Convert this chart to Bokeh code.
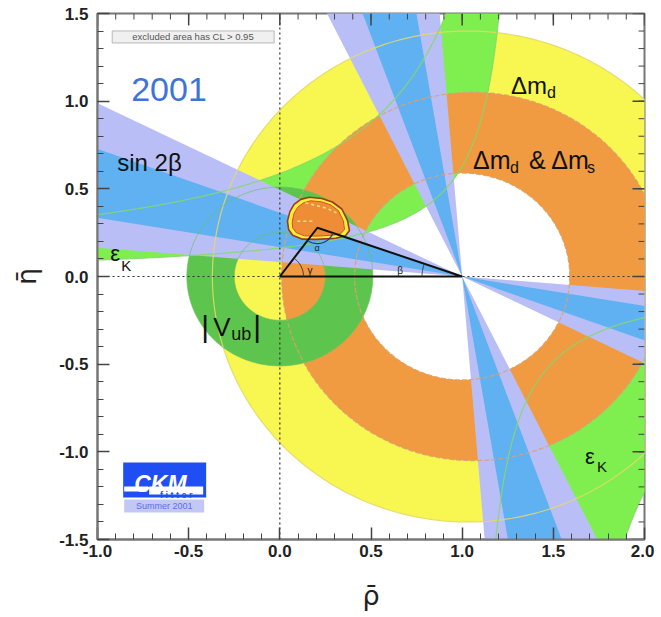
import numpy as np
from bokeh.plotting import figure
from bokeh.models import FixedTicker, NumeralTickFormatter
from bokeh.core.properties import value
from bokeh.embed import file_html
from bokeh.resources import INLINE

# ---------------- values ----------------
x_ticks = [-1.0, -0.5, 0.0, 0.5, 1.0, 1.5, 2.0]
y_ticks = [-1.5, -1.0, -0.5, 0.0, 0.5, 1.0, 1.5]
x_minor = [round(-1.0 + 0.1 * i, 1) for i in range(31)]
y_minor = [round(-1.5 + 0.1 * i, 1) for i in range(31)]

# sin 2beta : angle beta (deg) of band edges seen from the apex (1, 0)
beta_wide = [4.7, 26.3]     # lavender band
beta_narrow = [9.5, 20.0]   # blue band
apex_b = [1.0, 0.0]

# Delta m_d (yellow) ring and Delta m_d & Delta m_s (orange) ring
dmd_center = [1.03, 0.0]
dmd_outer = 1.40
dms_center = [1.06, 0.0]
dms_outer = 1.05
hole_center = [1.0, 0.0]
hole_radius = 0.59

# |Vub| ring around the origin
vub_center = [0.0, 0.0]
vub_radii = [0.25, 0.51]

# eps_K band edges, eta = k / (c - rho)   [c, k]
epsk_up_outer = [1.50, 0.881]
epsk_up_inner = [1.35, 0.22]
epsk_lo_outer = [1.403, 0.733]
epsk_lo_inner = [1.033, 0.227]

# global fit region
blob_rho = [0.042, 0.055, 0.078, 0.115, 0.161, 0.23, 0.288, 0.340, 0.371, 0.382,
            0.360, 0.307, 0.200, 0.124, 0.070, 0.048]
blob_eta = [0.316, 0.370, 0.411, 0.440, 0.452, 0.445, 0.425, 0.385, 0.320, 0.262,
            0.232, 0.218, 0.212, 0.213, 0.235, 0.268]
core_rho = [0.068, 0.078, 0.098, 0.130, 0.168, 0.228, 0.280, 0.322, 0.348, 0.355,
            0.335, 0.295, 0.200, 0.135, 0.090, 0.070]
core_eta = [0.312, 0.360, 0.395, 0.420, 0.432, 0.426, 0.408, 0.375, 0.318, 0.268,
            0.245, 0.236, 0.230, 0.232, 0.250, 0.278]
apex = [0.206, 0.278]

# ---------------- colours ----------------
YELLOW = "#f8f650"
ORANGE = "#f09a42"
GREEN_K = "#7fef4f"
GREEN_V = "#5dc44d"
LAVENDER = "#b9bff6"
BLUE = "#5fb1f2"

# reference-picture pixel -> data (for placing annotations)
def X(px):
    return (px - 280.7) / 182.4

def Y(py):
    return (277.0 - py) / 175.3

PX_X = 1.0 / 182.4   # one pixel in rho units
PX_Y = 1.0 / 175.3   # one pixel in eta units

p = figure(x_range=(-1.0, 2.0), y_range=(-1.5, 1.5),
           frame_width=547, frame_height=526,
           min_border_left=97, min_border_right=10, min_border_top=13, min_border_bottom=76,
           output_backend="svg", toolbar_location=None,
           x_axis_label="ρ̄", y_axis_label="η̄")
p.grid.visible = False
p.background_fill_color = "white"
p.border_fill_color = "white"
p.outline_line_color = "#777777"
p.outline_line_width = 2


def circle(c, r, n=361):
    t = np.linspace(0, 2 * np.pi, n)
    return list(c[0] + r * np.cos(t)), list(c[1] + r * np.sin(t))


def ring(c_out, r_out, c_in, r_in, color):
    ox, oy = circle(c_out, r_out)
    ix, iy = circle(c_in, r_in)
    p.multi_polygons(xs=[[[ox, ix]]], ys=[[[oy, iy]]], fill_color=color, line_color=None)


# Delta m_d
ring(dmd_center, dmd_outer, hole_center, hole_radius, YELLOW)

# eps_K band (upper and lower branch)
c, k = epsk_up_outer
r1 = np.linspace(-1.1, c - k / 1.6, 200)
e1 = k / (c - r1)
c, k = epsk_up_inner
r2 = np.linspace(c - k / 1.6, -1.1, 200)
e2 = k / (c - r2)
c, k = epsk_lo_inner
r3 = np.linspace(c + k / 1.6, 2.1, 200)
e3 = k / (c - r3)
c, k = epsk_lo_outer
r4 = np.linspace(2.1, c + k / 1.6, 200)
e4 = k / (c - r4)
p.patches(xs=[list(np.r_[r1, r2]), list(np.r_[r3, r4])],
          ys=[list(np.r_[e1, e2]), list(np.r_[e3, e4])],
          fill_color=GREEN_K, line_color=None)

# Delta m_d & Delta m_s
ring(dms_center, dms_outer, hole_center, hole_radius, ORANGE)

# |Vub|
ring(vub_center, vub_radii[1], vub_center, vub_radii[0], GREEN_V)


# sin 2beta wedges (double cones through (1,0)), both solutions
def wedges(a1, a2):
    L = 4.0
    xs, ys = [], []
    for lo, hi in ((a1, a2), (90 - a2, 90 - a1)):
        t1, t2 = np.radians(lo), np.radians(hi)
        xs.append([apex_b[0], apex_b[0] - L * np.cos(t1), apex_b[0] - L * np.cos(t2)])
        ys.append([apex_b[1], apex_b[1] + L * np.sin(t1), apex_b[1] + L * np.sin(t2)])
        xs.append([apex_b[0], apex_b[0] + L * np.cos(t1), apex_b[0] + L * np.cos(t2)])
        ys.append([apex_b[1], apex_b[1] - L * np.sin(t1), apex_b[1] - L * np.sin(t2)])
    return xs, ys


xs, ys = wedges(*beta_wide)
p.patches(xs=xs, ys=ys, fill_color=LAVENDER, line_color=None)
xs, ys = wedges(*beta_narrow)
p.patches(xs=xs, ys=ys, fill_color=BLUE, line_color=None)

# thin outlines of the constraints
cx, cy = circle(dmd_center, dmd_outer)
p.line(cx, cy, line_color="#e3d86a", line_width=1.2, line_alpha=0.9)
cx, cy = circle(dms_center, dms_outer)
p.line(cx, cy, line_color="#dba071", line_width=1.2, line_dash="5 2", line_alpha=0.9)
cx, cy = circle(hole_center, hole_radius)
p.line(cx, cy, line_color="#dba071", line_width=1.2, line_dash="5 2", line_alpha=0.9)
for rr, ee in ((r1, e1), (r2, e2), (r3, e3), (r4, e4)):
    p.line(list(rr), list(ee), line_color="#86d86a", line_width=1.2, line_alpha=0.9)
for rv in vub_radii:
    cx, cy = circle(vub_center, rv)
    p.line(cx, cy, line_color="#6cc25c", line_width=1, line_alpha=0.7)

# global fit region
p.patch(blob_rho, blob_eta, fill_color="#f6ef3a", line_color="#9c3a1a", line_width=1.6)
p.patch(core_rho, core_eta, fill_color="#ef8d36", line_color="#d8502a", line_width=1)
p.line([0.14, 0.20, 0.26, 0.31], [0.42, 0.405, 0.388, 0.363],
       line_color="#f5e68a", line_width=1.5, line_dash="3 3")
p.line([0.096, 0.179], [0.315, 0.315], line_color="#f5e68a", line_width=1.5, line_dash="3 3")

# dotted axes
p.line([-1.0, 2.0], [0.0, 0.0], line_color="#333333", line_width=1.2, line_dash="2 3")
p.line([0.0, 0.0], [-1.5, 1.5], line_color="#333333", line_width=1.2, line_dash="2 3")

# unitarity triangle
p.line([0.0, apex[0], 1.0, 0.0], [0.0, apex[1], 0.0, 0.0], line_color="#111111", line_width=2)

# angle arcs
g_ang = np.arctan2(apex[1], apex[0])
b_ang = np.arctan2(apex[1], 1.0 - apex[0])
t = np.linspace(0, g_ang, 30)
p.line(list(0.13 * np.cos(t)), list(0.13 * np.sin(t)), line_color="#333333", line_width=1)
t = np.linspace(np.pi - b_ang, np.pi, 30)
p.line(list(1.0 + 0.22 * np.cos(t)), list(0.22 * np.sin(t)), line_color="#333333", line_width=1)
t = np.linspace(np.pi + g_ang, 2 * np.pi - b_ang, 40)
p.line(list(apex[0] + 0.09 * np.cos(t)), list(apex[1] + 0.09 * np.sin(t)),
       line_color="#1c3f8a", line_width=1.3)


def txt(x, y, s, size, color="black", font="Liberation Sans", style="normal",
        align="left", baseline="alphabetic"):
    p.text(x=[x], y=[y], text=[s], text_font=value(font), text_font_size=f"{size}px",
           text_color=color, text_font_style=style, text_align=align,
           text_baseline=baseline)


txt(X(311), Y(271), "γ", 10, "#222222", align="center")
txt(X(318), Y(249), "α", 9, "#222222", align="center")
txt(X(401), Y(271), "β", 10, "#222222", align="center")

# CL box
p.quad(left=[X(113)], right=[X(275)], top=[Y(31.5)], bottom=[Y(43.5)],
       fill_color="#f0f0f0", line_color="#b8b8b8", line_width=1)
txt(X(194), Y(37.5), "excluded area has CL > 0.95", 9.5, "#555555",
    align="center", baseline="middle")

# labels
txt(X(132), Y(90), "2001", 34, "#3f74d6")
txt(X(118), Y(163), "sin 2β", 24, "#111111")
txt(X(111), Y(254), "ε", 22, "#111111")
txt(X(122), Y(266), "K", 15, "#111111")
txt(X(512), Y(86), "Δm", 24, "#111111")
txt(X(548), Y(93), "d", 16, "#111111")
txt(X(474), Y(161), "Δm", 25, "#111111")
txt(X(511), Y(168), "d", 16, "#111111")
txt(X(530), Y(161), "& Δm", 25, "#111111")
txt(X(588), Y(168), "s", 16, "#111111")
txt(X(202), Y(327), "|", 30, "#111111")
txt(X(214), Y(327), "V", 26, "#111111")
txt(X(232), Y(334), "ub", 18, "#111111")
txt(X(254), Y(327), "|", 30, "#111111")
txt(X(586), Y(457), "ε", 22, "#111111")
txt(X(598), Y(467), "K", 15, "#111111")

# CKMfitter logo
p.quad(left=[X(124)], right=[X(207)], top=[Y(463)], bottom=[Y(498)],
       fill_color="#1f4ef2", line_color=None)
p.quad(left=[X(125)], right=[X(148)], top=[Y(487)], bottom=[Y(492)],
       fill_color="white", line_color=None)
p.quad(left=[X(150)], right=[X(204)], top=[Y(487)], bottom=[Y(495)],
       fill_color="white", line_color=None)
txt(X(135), Y(484), "CKM", 23, "white", style="bold italic")
txt(X(177), Y(495), "f i t t e r", 9, "#1f4ef2", style="bold", align="center")
p.quad(left=[X(125)], right=[X(205)], top=[Y(500)], bottom=[Y(513)],
       fill_color="#c3c7f6", line_color=None)
txt(X(165), Y(506.8), "Summer 2001", 9, "#5a6ee6", align="center", baseline="middle")

# ticks on top and right edges (inside the frame)
maj_x = 12 * PX_Y
min_x = 6 * PX_Y
p.segment(x0=x_ticks, y0=[1.5] * len(x_ticks), x1=x_ticks, y1=[1.5 - maj_x] * len(x_ticks),
          line_color="#444444", line_width=1.5)
p.segment(x0=x_minor, y0=[1.5] * len(x_minor), x1=x_minor, y1=[1.5 - min_x] * len(x_minor),
          line_color="#444444", line_width=1)
maj_y = 12 * PX_X
min_y = 6 * PX_X
p.segment(x0=[2.0] * len(y_ticks), y0=y_ticks, x1=[2.0 - maj_y] * len(y_ticks), y1=y_ticks,
          line_color="#444444", line_width=1.5)
p.segment(x0=[2.0] * len(y_minor), y0=y_minor, x1=[2.0 - min_y] * len(y_minor), y1=y_minor,
          line_color="#444444", line_width=1)


# axes
def style_axis(ax, ticks, minor):
    ax.ticker = FixedTicker(ticks=ticks, minor_ticks=minor)
    ax.formatter = NumeralTickFormatter(format="0.0")
    ax.axis_line_color = "#777777"
    ax.axis_line_width = 2
    ax.major_tick_line_color = "#444444"
    ax.minor_tick_line_color = "#444444"
    ax.major_tick_line_width = 1.5
    ax.major_tick_in = 12
    ax.major_tick_out = 0
    ax.minor_tick_in = 6
    ax.minor_tick_out = 0
    ax.major_label_text_font = "Liberation Sans"
    ax.major_label_text_font_style = "bold"
    ax.major_label_text_font_size = "17px"
    ax.major_label_text_color = "#222222"
    ax.axis_label_text_font = "DejaVu Sans"
    ax.axis_label_text_font_style = "normal"
    ax.axis_label_text_font_size = "27px"
    ax.axis_label_text_color = "#222222"


style_axis(p.xaxis[0], x_ticks, x_minor)
style_axis(p.yaxis[0], y_ticks, y_minor)
p.xaxis[0].major_label_standoff = 5
p.yaxis[0].major_label_standoff = 9
p.xaxis[0].axis_label_standoff = 20
p.yaxis[0].axis_label_standoff = 14

open("out.html", "w").write(file_html(p, INLINE))
